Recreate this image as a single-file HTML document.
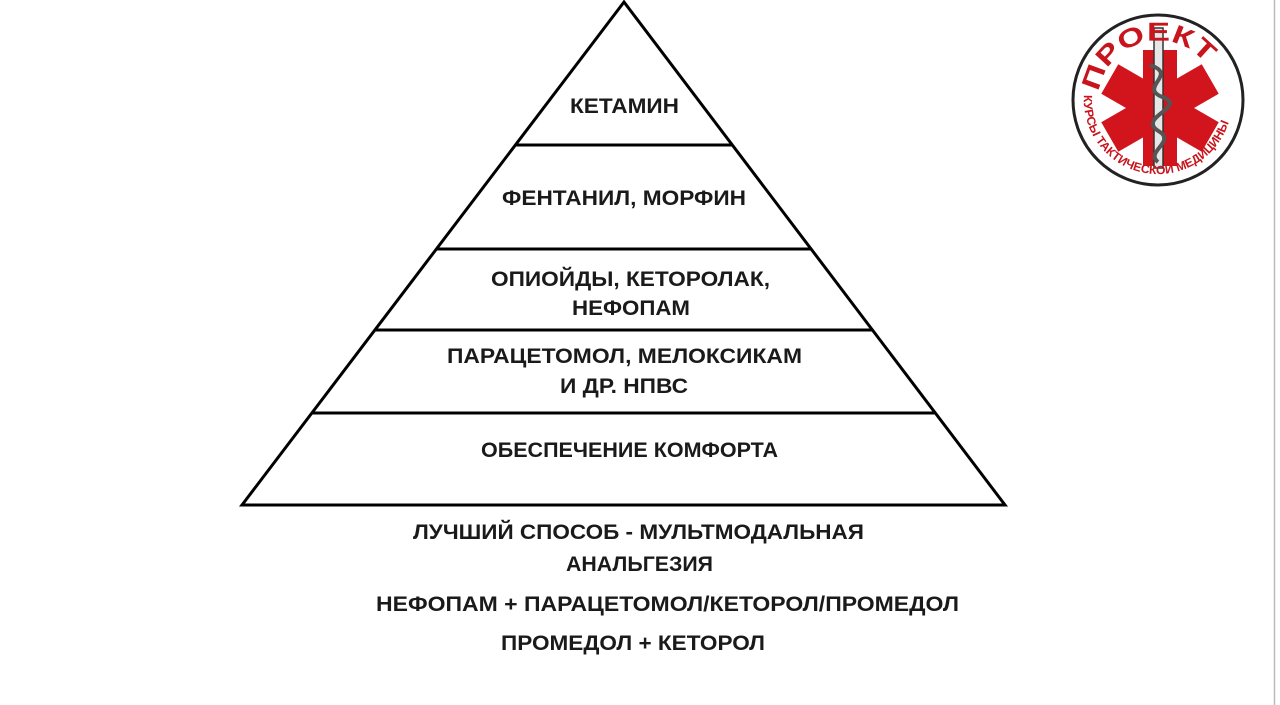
<!DOCTYPE html>
<html><head><meta charset="utf-8"><style>
html,body{margin:0;padding:0;background:#fff;}
svg{display:block;}
text{font-family:"Liberation Sans",sans-serif;font-weight:bold;font-size:21px;fill:#1a1a1a;}
</style></head><body>
<svg width="1280" height="705" viewBox="0 0 1280 705" xmlns="http://www.w3.org/2000/svg">
<defs>
<path id="topArc" d="M1099,92 A60,60 0 0 1 1217,88"/>
<path id="botArc" d="M1084,95 A74,74 0 0 0 1232,105"/>
</defs>
<rect x="0" y="0" width="1280" height="705" fill="#fff"/>
<line x1="1274.5" y1="0" x2="1274.5" y2="705" stroke="#bbb" stroke-width="1.5"/>
<polygon points="624,2 242,505 1005,505" fill="#fff" stroke="#000" stroke-width="3" stroke-linejoin="miter"/>
<line x1="515" y1="145" x2="732" y2="145" stroke="#000" stroke-width="3"/>
<line x1="436" y1="249" x2="811" y2="249" stroke="#000" stroke-width="3"/>
<line x1="375" y1="330" x2="872" y2="330" stroke="#000" stroke-width="3"/>
<line x1="312" y1="413" x2="935" y2="413" stroke="#000" stroke-width="3"/>
<text x="570" y="113" textLength="109" lengthAdjust="spacingAndGlyphs">КЕТАМИН</text>
<text x="502" y="205" textLength="244" lengthAdjust="spacingAndGlyphs">ФЕНТАНИЛ, МОРФИН</text>
<text x="491" y="286" textLength="279" lengthAdjust="spacingAndGlyphs">ОПИОЙДЫ, КЕТОРОЛАК,</text>
<text x="572" y="315" textLength="118" lengthAdjust="spacingAndGlyphs">НЕФОПАМ</text>
<text x="447" y="363" textLength="355" lengthAdjust="spacingAndGlyphs">ПАРАЦЕТОМОЛ, МЕЛОКСИКАМ</text>
<text x="560" y="393" textLength="128" lengthAdjust="spacingAndGlyphs">И ДР. НПВС</text>
<text x="481" y="457" textLength="297" lengthAdjust="spacingAndGlyphs">ОБЕСПЕЧЕНИЕ КОМФОРТА</text>
<text x="413" y="539" textLength="451" lengthAdjust="spacingAndGlyphs">ЛУЧШИЙ СПОСОБ - МУЛЬТМОДАЛЬНАЯ</text>
<text x="566" y="571" textLength="147" lengthAdjust="spacingAndGlyphs">АНАЛЬГЕЗИЯ</text>
<text x="376" y="611" textLength="583" lengthAdjust="spacingAndGlyphs">НЕФОПАМ + ПАРАЦЕТОМОЛ/КЕТОРОЛ/ПРОМЕДОЛ</text>
<text x="501" y="650" textLength="264" lengthAdjust="spacingAndGlyphs">ПРОМЕДОЛ + КЕТОРОЛ</text>
<!-- logo -->
<g>
<circle cx="1158" cy="100" r="85" fill="#fff" stroke="#222" stroke-width="3"/>
<g transform="translate(1160,108)" fill="#d2141c">
<rect x="-17" y="-58" width="34" height="116"/>
<rect x="-17" y="-58" width="34" height="116" transform="rotate(60)"/>
<rect x="-17" y="-58" width="34" height="116" transform="rotate(-60)"/>
</g>
<rect x="1154" y="28" width="9" height="140" fill="#e6e6e6" stroke="#333" stroke-width="1.5"/>
<path d="M1150,65 C1180,75 1135,88 1165,98 C1185,108 1135,118 1160,132 C1175,142 1145,152 1158,162" fill="none" stroke="#555" stroke-width="4"/>
<text style="fill:#c8141c;font-size:26px" textLength="140" lengthAdjust="spacingAndGlyphs"><textPath href="#topArc">ПРОЕКТ</textPath></text>
<text style="fill:#c8141c;font-size:12px" textLength="215" lengthAdjust="spacingAndGlyphs"><textPath href="#botArc">КУРСЫ ТАКТИЧЕСКОЙ МЕДИЦИНЫ</textPath></text>
</g>
</svg>
</body></html>
